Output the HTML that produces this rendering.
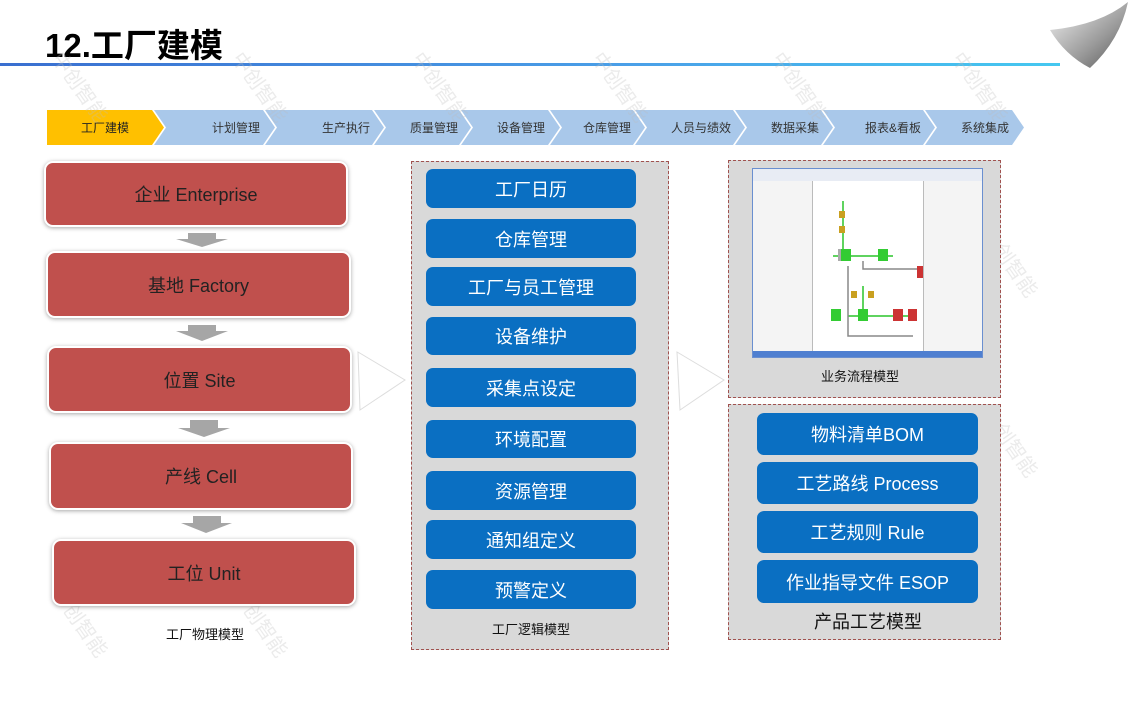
<!DOCTYPE html>
<html><head><meta charset="utf-8"><style>
*{margin:0;padding:0;box-sizing:border-box}
body{width:1130px;height:708px;background:#fff;position:relative;overflow:hidden;font-family:"Liberation Sans","Noto Sans CJK SC",sans-serif}
.a{position:absolute}
.red{position:absolute;background:#c0504d;border-radius:9px;border:2px solid #fff;box-shadow:0 1px 4px rgba(0,0,0,.35);color:#222;font-size:18px;display:flex;align-items:center;justify-content:center}
.blue{position:absolute;background:#0a6fc2;border-radius:7px;color:#fff;font-size:18px;display:flex;align-items:center;justify-content:center}
.box{position:absolute;background:#d9d9d9;border:1px dashed #a0524f}
.lbl{position:absolute;font-size:13px;color:#111;text-align:center}
.wm{position:absolute;color:rgba(190,190,190,.3);font-size:20px;transform:rotate(55deg);transform-origin:left top;white-space:nowrap}
</style></head><body>
<div class="a" style="left:45px;top:19px;font-size:33px;font-weight:bold;color:#000">12.工厂建模</div>
<div class="a" style="left:0;top:63px;width:1060px;height:3px;background:linear-gradient(90deg,#3a6fd0,#4aa0e8 60%,#45c8f0)"></div>
<svg class="a" style="left:1040px;top:0" width="90" height="75">
<defs><linearGradient id="g" x1="0" y1="0" x2="1" y2="1"><stop offset="0" stop-color="#f4f4f4"/><stop offset=".6" stop-color="#9a9a9a"/><stop offset="1" stop-color="#555"/></linearGradient></defs>
<path d="M10 30 Q60 25 88 2 Q80 40 50 68 Q25 55 10 30Z" fill="url(#g)"/>
</svg>
<svg class="a" style="left:0;top:0" width="1130" height="160">
<g font-size="12" fill="#222" font-family="Liberation Sans,Noto Sans CJK SC,sans-serif">
<polygon points="47,110 152,110 164,127.5 152,145 47,145" fill="#ffc000"/>
<text x="105" y="132" text-anchor="middle">工厂建模</text>
<polygon points="154,110 263,110 275,127.5 263,145 154,145 166,127.5" fill="#a9c8ea"/>
<polygon points="265,110 372,110 384,127.5 372,145 265,145 277,127.5" fill="#a9c8ea"/>
<polygon points="374,110 459,110 471,127.5 459,145 374,145 386,127.5" fill="#a9c8ea"/>
<polygon points="461,110 548,110 560,127.5 548,145 461,145 473,127.5" fill="#a9c8ea"/>
<polygon points="550,110 633,110 645,127.5 633,145 550,145 562,127.5" fill="#a9c8ea"/>
<polygon points="635,110 733,110 745,127.5 733,145 635,145 647,127.5" fill="#a9c8ea"/>
<polygon points="735,110 821,110 833,127.5 821,145 735,145 747,127.5" fill="#a9c8ea"/>
<polygon points="823,110 923,110 935,127.5 923,145 823,145 835,127.5" fill="#a9c8ea"/>
<polygon points="925,110 1012,110 1024,127.5 1012,145 925,145 937,127.5" fill="#a9c8ea"/>
<g fill="#333">
<text x="236" y="132" text-anchor="middle">计划管理</text>
<text x="346" y="132" text-anchor="middle">生产执行</text>
<text x="434" y="132" text-anchor="middle">质量管理</text>
<text x="521" y="132" text-anchor="middle">设备管理</text>
<text x="607" y="132" text-anchor="middle">仓库管理</text>
<text x="701" y="132" text-anchor="middle">人员与绩效</text>
<text x="795" y="132" text-anchor="middle">数据采集</text>
<text x="893" y="132" text-anchor="middle">报表&amp;看板</text>
<text x="985" y="132" text-anchor="middle">系统集成</text>
</g></g></svg>
<div class="wm" style="left:70px;top:45px">中创智能</div>
<div class="wm" style="left:250px;top:45px">中创智能</div>
<div class="wm" style="left:430px;top:45px">中创智能</div>
<div class="wm" style="left:610px;top:45px">中创智能</div>
<div class="wm" style="left:790px;top:45px">中创智能</div>
<div class="wm" style="left:970px;top:45px">中创智能</div>
<div class="wm" style="left:70px;top:580px">中创智能</div>
<div class="wm" style="left:250px;top:580px">中创智能</div>
<div class="wm" style="left:1000px;top:400px">中创智能</div>
<div class="wm" style="left:1000px;top:220px">中创智能</div>

<div class="red" style="left:44px;top:161px;width:304px;height:66px">企业 Enterprise</div>
<div class="red" style="left:46px;top:251px;width:305px;height:67px">基地 Factory</div>
<div class="red" style="left:47px;top:346px;width:305px;height:67px">位置 Site</div>
<div class="red" style="left:49px;top:442px;width:304px;height:68px">产线 Cell</div>
<div class="red" style="left:52px;top:539px;width:304px;height:67px">工位 Unit</div>
<svg class="a" style="left:0;top:0" width="1130" height="708">
<g fill="#a6a6a6">
<polygon points="188,233 216,233 216,239 228,239 202,247 176,239 188,239"/>
<polygon points="188,325 216,325 216,331 228,331 202,341 176,331 188,331"/>
<polygon points="190,420 218,420 218,428 230,428 204,437 178,428 190,428"/>
<polygon points="193,516 221,516 221,523 232,523 206,533 181,523 193,523"/>
</g>
<polygon points="358,352 405,380 360,410" fill="#fff" stroke="#ddd" stroke-width="1"/>
<polygon points="677,352 724,380 680,410" fill="#fff" stroke="#ddd" stroke-width="1"/>
</svg>
<div class="lbl" style="left:140px;top:624px;width:130px">工厂物理模型</div>

<div class="box" style="left:411px;top:161px;width:258px;height:489px"></div>
<div class="blue" style="left:426px;top:169px;width:210px;height:39px">工厂日历</div>
<div class="blue" style="left:426px;top:219px;width:210px;height:39px">仓库管理</div>
<div class="blue" style="left:426px;top:267px;width:210px;height:39px">工厂与员工管理</div>
<div class="blue" style="left:426px;top:317px;width:210px;height:38px">设备维护</div>
<div class="blue" style="left:426px;top:368px;width:210px;height:39px">采集点设定</div>
<div class="blue" style="left:426px;top:420px;width:210px;height:38px">环境配置</div>
<div class="blue" style="left:426px;top:471px;width:210px;height:39px">资源管理</div>
<div class="blue" style="left:426px;top:520px;width:210px;height:39px">通知组定义</div>
<div class="blue" style="left:426px;top:570px;width:210px;height:39px">预警定义</div>
<div class="lbl" style="left:466px;top:619px;width:130px">工厂逻辑模型</div>

<div class="box" style="left:728px;top:160px;width:273px;height:238px"></div>
<div class="a" style="left:752px;top:168px;width:231px;height:190px;background:#fff;border:1px solid #6a8fd0">
<div class="a" style="left:0;top:0;width:229px;height:12px;background:#e8ecf4"></div>
<div class="a" style="left:0;top:12px;width:60px;height:176px;background:#f4f4f4;border-right:1px solid #bbb"></div>
<div class="a" style="left:170px;top:12px;width:59px;height:176px;background:#f4f4f4;border-left:1px solid #bbb"></div>
<div class="a" style="left:0;top:182px;width:229px;height:6px;background:#4f7fd0"></div>
<svg class="a" style="left:60px;top:12px" width="110" height="170">
<g stroke="#5fd35f" stroke-width="2" fill="none"><path d="M20 75 H80 M30 75 V20 M35 135 H100 M50 135 V105"/></g>
<g stroke="#888" stroke-width="1.5" fill="none"><path d="M35 85 V155 H100 M50 80 V88 H110"/></g>
<rect x="25" y="68" width="10" height="12" fill="#aaa"/><rect x="28" y="68" width="10" height="12" fill="#3c3"/>
<rect x="65" y="68" width="10" height="12" fill="#3c3"/><rect x="104" y="85" width="9" height="12" fill="#c33"/>
<rect x="18" y="128" width="10" height="12" fill="#3c3"/><rect x="45" y="128" width="10" height="12" fill="#3c3"/>
<rect x="80" y="128" width="10" height="12" fill="#c33"/><rect x="95" y="128" width="9" height="12" fill="#c33"/>
<rect x="26" y="30" width="6" height="7" fill="#c9a020"/><rect x="26" y="45" width="6" height="7" fill="#c9a020"/><rect x="38" y="110" width="6" height="7" fill="#c9a020"/><rect x="55" y="110" width="6" height="7" fill="#c9a020"/>
</svg>
</div>
<div class="lbl" style="left:795px;top:366px;width:130px">业务流程模型</div>

<div class="box" style="left:728px;top:404px;width:273px;height:236px"></div>
<div class="blue" style="left:757px;top:413px;width:221px;height:42px">物料清单BOM</div>
<div class="blue" style="left:757px;top:462px;width:221px;height:42px">工艺路线 Process</div>
<div class="blue" style="left:757px;top:511px;width:221px;height:42px">工艺规则 Rule</div>
<div class="blue" style="left:757px;top:560px;width:221px;height:43px">作业指导文件 ESOP</div>
<div class="lbl" style="left:788px;top:608px;width:160px;font-size:18px">产品工艺模型</div>
</body></html>
